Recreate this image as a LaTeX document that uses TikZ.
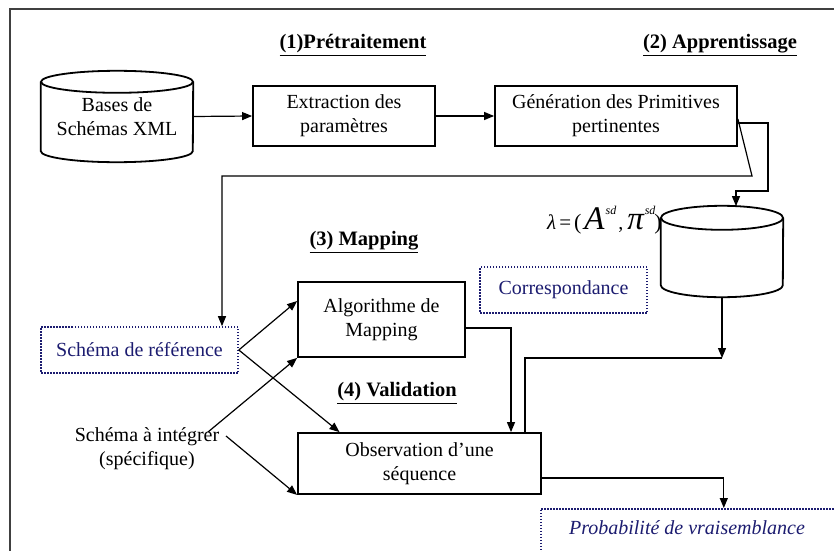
\documentclass[tikz,border=0pt]{standalone}
\usepackage{fontspec}
\setmainfont{Liberation Serif}
\usetikzlibrary{arrows.meta}
\definecolor{navy}{RGB}{28,28,112}

% outline of a database drum around a body node: #1 node, #2 x radius, #3 y radius
\newcommand\drawdb[3]{%
  \draw[line width=1.8pt] (#1.north west) -- (#1.south west)
    arc[start angle=180, end angle=360, x radius=#2, y radius=#3] -- (#1.north east);
  \draw[line width=1.8pt] (#1.north) ellipse [x radius=#2, y radius=#3];
}
% large italic symbol with a small raised "sd"
\newcommand\bigsd[1]{{\fontsize{33}{33}\selectfont\itshape #1}\hspace{1pt}\raisebox{15pt}{\fontsize{12}{12}\selectfont\itshape sd}}

\begin{document}
\begin{tikzpicture}[x=1pt, y=-1pt,
  font=\fontsize{20}{24}\selectfont,
  box/.style={draw, line width=1.8pt, align=center, inner sep=0pt},
  dotbox/.style={draw=navy, text=navy, line width=1.6pt,
                 dash pattern=on 1.5pt off 1.5pt, align=center, inner sep=0pt},
  dbbody/.style={align=center, inner sep=0pt},
  title/.style={font=\fontsize{20.5}{24}\selectfont\bfseries},
  conn/.style={line width=1.2pt},
  arr/.style={conn, -{Triangle[length=10pt,width=8pt]}},
]
\useasboundingbox (0,0) rectangle (834,551);
\fill[white] (0,0) rectangle (834,551);

% outer frame
\draw[line width=1.5pt, black!75] (834,9) -- (10,9) -- (10,551);

% stage titles
\node[title] (t1) at (353,45)  {\underline{(1)Prétraitement}};
\node[title] (t2) at (720,45)  {\underline{(2) Apprentissage}};
\node[title] (t3) at (364,242) {\underline{(3) Mapping}};
\node[title] (t4) at (397,393) {\underline{(4) Validation}};

% preprocessing and learning
\node[dbbody, minimum width=152pt, minimum height=69pt] (db1) at (117,116.5) {Bases de\\Schémas XML};
\drawdb{db1}{76pt}{11pt}
\node[box, minimum width=182pt, minimum height=60pt] (ext) at (344,116) {Extraction des\\paramètres};
\node[box, minimum width=242pt, minimum height=60pt] (gen) at (616,116) {Génération des Primitives\\pertinentes};

% model store
\node[dbbody, minimum width=122pt, minimum height=67pt] (db2) at (722,251.5) {};
\drawdb{db2}{61pt}{12pt}
\node[anchor=base east, inner sep=0pt] (lam) at (662,229)
  {{\fontsize{21}{21}\selectfont\itshape λ}\hspace{3pt}{\fontsize{21}{21}\selectfont=}\hspace{3pt}{\fontsize{22}{22}\selectfont(}\hspace{3pt}\bigsd{A}\hspace{2pt},\hspace{4pt}\bigsd{π}\hspace{-1pt}{\fontsize{22}{22}\selectfont)}};

% mapping and validation
\node[dotbox, minimum width=167pt, minimum height=46pt] (corr) at (563.5,290) {Correspondance};
\node[dotbox, minimum width=197pt, minimum height=46pt] (ref) at (139.5,350) {Schéma de référence};
\node[box, minimum width=167pt, minimum height=75pt] (map) at (381.5,319.5) {Algorithme de\\Mapping};
\node[box, minimum width=243pt, minimum height=61pt] (obs) at (419.5,463.5) {Observation d’une\\séquence};
\node[align=center, inner sep=0pt] (integ) at (147,448.5) {Schéma à intégrer\\(spécifique)};
\node[dotbox, minimum width=298pt, minimum height=48pt, anchor=north west] (prob) at (540,508) {};
\node[text=navy, font=\fontsize{20}{24}\selectfont\itshape] (probtxt) at (687,528) {Probabilité de vraisemblance};

% connectors
\draw[arr] (db1.east) -- (ext.west);
\draw[arr] (ext.east) -- (gen.west);
\draw[arr] ([yshift=-7pt]gen.east) -- ++(30,0) |- (736,191) -- ([xshift=14pt,yshift=11.7pt]db2.north);
\draw[arr] ([yshift=-3pt]gen.east) -- (752,176) -| ([xshift=82.5pt]ref.north);
\draw[arr] (ref.east) -- ([yshift=18.5pt]map.west);
\draw[arr] (ref.east) -- ([xshift=-80pt]obs.north);
\coordinate (i1) at (208,432);
\coordinate (i2) at (226,436);
\draw[arr] (i1) -- (map.south west);
\draw[arr] (i2) -- (obs.south west);
\draw[arr] ([yshift=-8.5pt]map.east) -| ([xshift=91.5pt]obs.north);
\coordinate (jn) at (722,358);
\draw[arr] ([yshift=-12pt]db2.south) -- (jn);
\draw[conn] (jn) -| ([xshift=105.5pt]obs.north);
\draw[arr] ([yshift=-14.5pt]obs.east) -| ([xshift=34pt]prob.north);
\end{tikzpicture}
\end{document}
